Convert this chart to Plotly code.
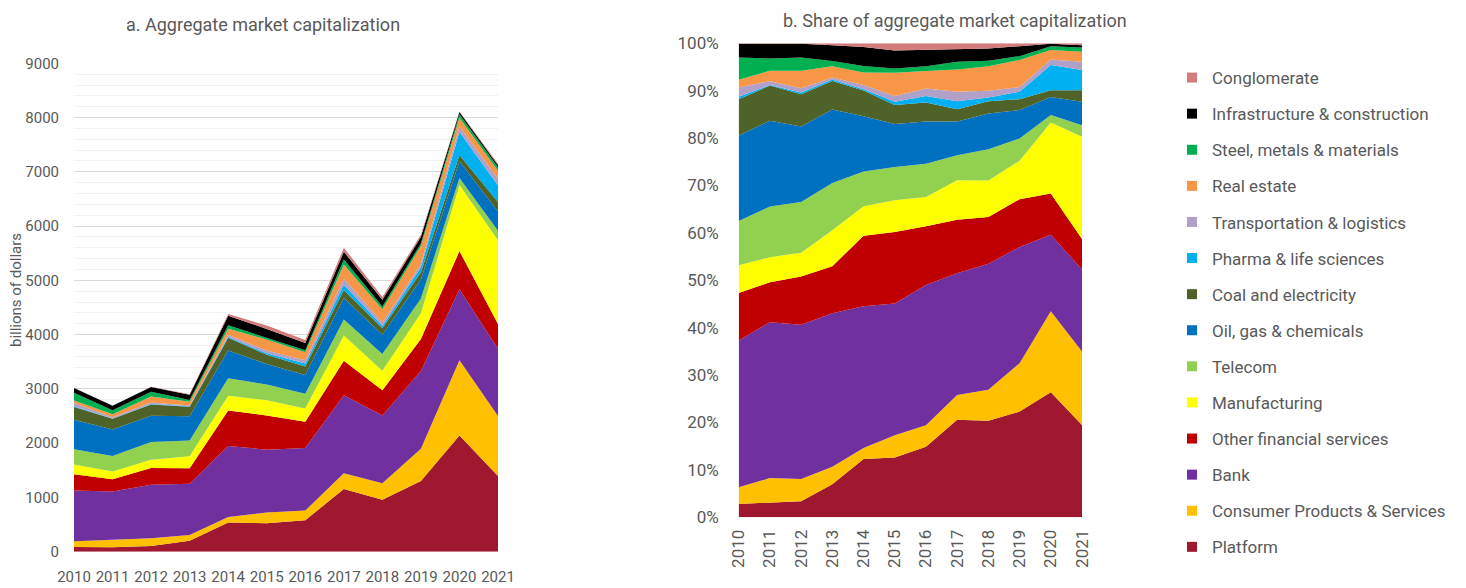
import plotly.graph_objs as go

# Years and sectors (bottom of the stack first)
years = [2010, 2011, 2012, 2013, 2014, 2015, 2016, 2017, 2018, 2019, 2020, 2021]

sectors = [
    "Platform",
    "Consumer Products & Services",
    "Bank",
    "Other financial services",
    "Manufacturing",
    "Telecom",
    "Oil, gas & chemicals",
    "Coal and electricity",
    "Pharma & life sciences",
    "Transportation & logistics",
    "Real estate",
    "Steel, metals & materials",
    "Infrastructure & construction",
    "Conglomerate",
]

# billions of dollars
platform = [85, 83, 103, 203, 539, 525, 581, 1154, 957, 1302, 2141, 1394]
consumer = [106, 140, 143, 107, 101, 196, 176, 291, 305, 596, 1387, 1108]
bank = [936, 885, 988, 940, 1310, 1159, 1154, 1439, 1248, 1431, 1306, 1237]
other_fin = [302, 226, 310, 287, 653, 630, 484, 633, 464, 590, 706, 458]
manufacturing = [178, 143, 152, 220, 272, 279, 242, 465, 361, 473, 1217, 1544]
telecom = [281, 288, 325, 290, 320, 292, 273, 297, 310, 274, 130, 172]
oil_gas = [544, 487, 483, 450, 512, 379, 347, 398, 352, 350, 308, 358]
coal_elec = [233, 199, 207, 174, 237, 167, 156, 146, 122, 134, 114, 172]
pharma = [15, 3, 12, 9, 13, 29, 55, 95, 38, 93, 430, 307]
transport = [60, 22, 27, 12, 39, 50, 62, 112, 66, 58, 97, 122]
real_estate = [48, 59, 112, 70, 114, 204, 144, 263, 244, 333, 162, 150]
steel = [142, 70, 85, 32, 61, 38, 39, 90, 52, 47, 65, 64]
infra = [88, 83, 88, 96, 175, 158, 133, 146, 122, 123, 41, 36]
conglomerate = [3, 3, 3, 12, 35, 63, 55, 73, 52, 35, 8, 29]

values = [platform, consumer, bank, other_fin, manufacturing, telecom, oil_gas,
          coal_elec, pharma, transport, real_estate, steel, infra, conglomerate]

colors = ["#A0182F", "#FFC000", "#7030A0", "#C00000", "#FFFF00", "#92D050",
          "#0070C0", "#4F6228", "#00B0F0", "#B1A0C7", "#F79646", "#00B050",
          "#000000", "#D47B7B"]

FONT = "Roboto, sans-serif"
GREY = "#595959"
OFF = 8  # page body margin
W, H = 1466 - OFF, 588 - OFF


def px(x):
    return (x - OFF) / W


def py(y):
    return 1 - (y - OFF) / H


fig = go.Figure()

for i, (name, vals, col) in enumerate(zip(sectors, values, colors)):
    # a. absolute values
    fig.add_trace(go.Scatter(
        x=years, y=vals, name=name, mode="lines",
        line=dict(width=0, color=col), fillcolor=col,
        stackgroup="abs", legendgroup=name, showlegend=False,
        xaxis="x", yaxis="y",
    ))
    # b. shares
    fig.add_trace(go.Scatter(
        x=years, y=vals, name=name, mode="lines",
        line=dict(width=0, color=col), fillcolor=col,
        stackgroup="share", groupnorm="percent",
        legendgroup=name, showlegend=False,
        xaxis="x2", yaxis="y2",
    ))
    # legend entry (square swatch)
    fig.add_trace(go.Scatter(
        x=[None], y=[None], name=name, mode="markers",
        marker=dict(symbol="square", size=10, color=col),
        legendgroup=name, legendrank=100 - i, showlegend=True,
        xaxis="x", yaxis="y",
    ))

fig.update_layout(
    width=W, height=H,
    margin=dict(l=0, r=0, t=0, b=0),
    paper_bgcolor="white", plot_bgcolor="white",
    font=dict(family=FONT, color=GREY, size=16),
    xaxis=dict(
        domain=[px(74), px(498)], range=[2010, 2021],
        tickvals=years, tickangle=0, showgrid=False, zeroline=False,
        showline=False, tickfont=dict(size=15), ticks="",
        ticklabelstandoff=14, automargin=False,
    ),
    yaxis=dict(
        domain=[py(551.7), py(63.3)], range=[0, 9000],
        dtick=1000, gridcolor="#D9D9D9", zeroline=False, showline=False,
        minor=dict(dtick=200, showgrid=True, gridcolor="#F2F2F2"),
        tickfont=dict(size=15), ticklabelstandoff=14, automargin=False,
    ),
    xaxis2=dict(
        domain=[px(738.7), px(1082)], range=[2010, 2021], anchor="y2",
        tickvals=years, tickangle=-90, showgrid=False, zeroline=False,
        showline=False, ticks="", tickfont=dict(size=17),
        ticklabelstandoff=8, automargin=False,
    ),
    yaxis2=dict(
        domain=[py(517.3), py(43.3)], range=[0, 100], anchor="x2",
        dtick=10, ticksuffix="%", showgrid=False, zeroline=False,
        showline=False, tickfont=dict(size=17), ticklabelstandoff=19,
        automargin=False,
    ),
    legend=dict(
        x=px(1172), y=py(60), xanchor="left", yanchor="top",
        traceorder="grouped", tracegroupgap=11,
        font=dict(size=17, color=GREY), itemwidth=30,
    ),
    annotations=[
        dict(text="a. Aggregate market capitalization", x=px(263), y=py(24),
             xref="paper", yref="paper", xanchor="center", yanchor="middle",
             showarrow=False, font=dict(size=18, color=GREY)),
        dict(text="b. Share of aggregate market capitalization", x=px(955),
             y=py(20), xref="paper", yref="paper", xanchor="center",
             yanchor="middle", showarrow=False, font=dict(size=18, color=GREY)),
        dict(text="billions of dollars", x=px(16), y=py(290), textangle=-90,
             xref="paper", yref="paper", xanchor="center", yanchor="middle",
             showarrow=False, font=dict(size=15, color=GREY)),
    ],
)

fig.write_html("out.html")
